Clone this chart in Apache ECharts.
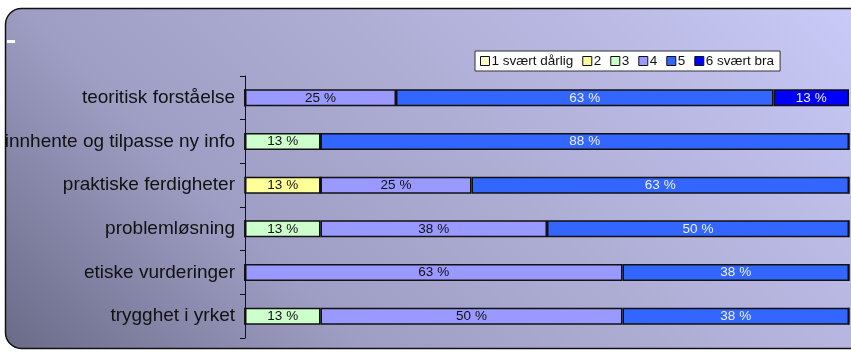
<!DOCTYPE html>
<html>
<head>
<meta charset="utf-8">
<script src="https://cdn.jsdelivr.net/npm/echarts@6/dist/echarts.min.js"></script>
<style>
  html, body { margin: 0; padding: 0; background: #fff; }
  #chart { width: 851px; height: 352px; }
</style>
</head>
<body>
<div id="chart"></div>
<script>
// kategorier (ovenfra og ned)
var categories = ['teoritisk forståelse', 'innhente og tilpasse ny info', 'praktiske ferdigheter',
  'problemløsning', 'etiske vurderinger', 'trygghet i yrket'];
var seriesNames = ['1 svært dårlig', '2', '3', '4', '5', '6 svært bra'];
// andeler i prosent per kategori
var s1 = [0, 0, 0, 0, 0, 0];
var s2 = [0, 0, 12.5, 0, 0, 0];
var s3 = [0, 12.5, 0, 12.5, 0, 12.5];
var s4 = [25, 0, 25, 37.5, 62.5, 50];
var s5 = [62.5, 87.5, 62.5, 50, 37.5, 37.5];
var s6 = [12.5, 0, 0, 0, 0, 0];
var values = [s1, s2, s3, s4, s5, s6];
var colors = ['#ffffcc', '#ffff99', '#ccffcc', '#9999ff', '#3366ff', '#0000ff'];
var labelColors = ['#111', '#111', '#111', '#111', '#f0f0f0', '#f0f0f0'];

var myChart = echarts.init(document.getElementById('chart'));

var series = seriesNames.map(function (name, i) {
  return {
    name: name,
    type: 'bar',
    stack: 'tot',
    barWidth: 17,
    data: values[i],
    itemStyle: { color: colors[i], borderColor: '#111', borderWidth: 1.5 },
    label: {
      show: true,
      position: 'inside',
      color: labelColors[i],
      fontFamily: 'Liberation Sans, Arial',
      fontSize: 13.5,
      formatter: function (p) {
        return p.value > 0 ? Math.round(p.value) + ' %' : '';
      }
    }
  };
});

var option = {
  animation: false,
  graphic: [{
    type: 'rect',
    shape: { x: 5.5, y: 8.5, width: 860, height: 340, r: [16, 0, 0, 16] },
    style: {
      // bakgrunn: mørk nede til venstre, lys oppe til høyre
      fill: new echarts.graphic.LinearGradient(5, 348, 598, -245, [
        { offset: 0, color: '#6a6a88' },
        { offset: 0.3, color: '#9e9ec4' },
        { offset: 0.5, color: '#aaaad0' },
        { offset: 0.75, color: '#b8b8e2' },
        { offset: 1, color: '#cacaf8' }
      ], true),
      stroke: '#111',
      lineWidth: 1.5
    },
    z: -10
  }, {
    type: 'rect',
    shape: { x: 7, y: 40, width: 8, height: 3 },
    style: { fill: '#fff' },
    z: -9
  }],
  legend: {
    left: 475,
    top: 51,
    backgroundColor: '#fff',
    borderColor: '#333',
    borderWidth: 1,
    padding: [3, 6, 3, 5],
    itemWidth: 9,
    itemHeight: 9,
    itemGap: 9,
    icon: 'rect',
    textStyle: { fontFamily: 'Liberation Sans, Arial', fontSize: 13.5, color: '#111', padding: [0, 0, 0, -3] },
    itemStyle: { borderColor: '#111', borderWidth: 1 },
    data: seriesNames
  },
  grid: { left: 245, right: 2, top: 76, bottom: 14 },
  xAxis: {
    type: 'value',
    min: 0,
    max: 100,
    show: false
  },
  yAxis: {
    type: 'category',
    inverse: true,
    data: categories,
    axisLine: { show: true, lineStyle: { color: '#111', width: 1 } },
    axisTick: { show: true, length: 5, lineStyle: { color: '#111' } },
    axisLabel: { color: '#111', fontFamily: 'Liberation Sans, Arial', fontSize: 19, margin: 10 },
    splitLine: { show: false }
  },
  series: series
};

myChart.setOption(option);
</script>
</body>
</html>
